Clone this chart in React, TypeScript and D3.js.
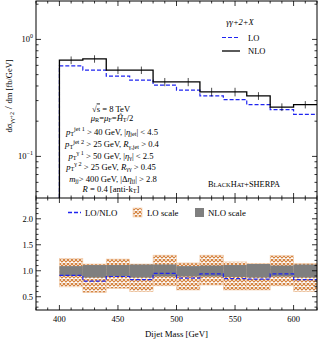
import React from "react";
import * as d3 from "d3";

// bin lower edges (GeV), width 20
const binEdges = [400, 420, 440, 460, 480, 500, 520, 540, 560, 580, 600];
const binWidth = 20;
// dσ/dm [fb/GeV]
const nloValues = [0.665, 0.682, 0.546, 0.546, 0.433, 0.433, 0.356, 0.356, 0.329, 0.264, 0.277];
const nloErrors = [0.05, 0.05, 0.04, 0.04, 0.035, 0.035, 0.03, 0.03, 0.025, 0.02, 0.02];
const loValues = [0.594, 0.546, 0.485, 0.448, 0.406, 0.368, 0.329, 0.306, 0.277, 0.251, 0.229];
// ratio panel
const loNloRatio = [0.91, 0.8, 0.89, 0.83, 0.95, 0.86, 0.94, 0.85, 0.84, 0.94, 0.83];
const loScaleLow = [0.69, 0.58, 0.66, 0.6, 0.71, 0.63, 0.725, 0.63, 0.63, 0.71, 0.6];
const loScaleHigh = [1.24, 1.13, 1.225, 1.13, 1.3, 1.15, 1.3, 1.17, 1.14, 1.29, 1.14];
const nloScaleLow = [0.9, 0.87, 0.89, 0.87, 0.89, 0.89, 0.89, 0.88, 0.87, 0.89, 0.87];
const nloScaleHigh = [1.09, 1.11, 1.11, 1.12, 1.12, 1.09, 1.1, 1.11, 1.13, 1.1, 1.12];

const xTicks = [400, 450, 500, 550, 600];
const ratioTicks = [0.5, 1.0, 1.5, 2.0];

const W = 326;
const H = 345;
const left = 36;
const right = 317;
const mainTop = 1;
const mainBottom = 198;
const ratioBottom = 310;

const font = "'Liberation Serif', 'DejaVu Serif', serif";
const blue = "#1f24f0";
const orange = "#d4813d";

const Cut = ({ xPos, yPos, children }: any) => (
  <text x={xPos} y={yPos} textAnchor="middle">
    {children}
  </text>
);

const App = () => {
  const x = d3.scaleLinear().domain([380, 620]).range([left, right]);
  const y = d3.scaleLog().domain([0.0441, 2.13]).range([mainBottom, mainTop]);
  const yr = d3.scaleLinear().domain([0.245, 2.4]).range([ratioBottom, mainBottom]);

  const lastEdge = binEdges[binEdges.length - 1] + binWidth;

  // histogram step path, optionally with a vertical edge down to the axis
  const histPath = (vals: number[], ys: any, floor: number | null) => {
    const pts: [number, number][] = [];
    if (floor !== null) pts.push([binEdges[0], floor]);
    binEdges.forEach((e, i) => pts.push([e, vals[i]]));
    pts.push([lastEdge, vals[vals.length - 1]]);
    return d3
      .line<[number, number]>()
      .x((d) => x(d[0]))
      .y((d) => ys(d[1]))
      .curve(d3.curveStepAfter)(pts) as string;
  };

  const minorX = d3.range(380, 621, 10);
  const mainMinorY: number[] = [];
  [0.01, 0.1, 1].forEach((dec) => {
    for (let k = 1; k <= 9; k++) {
      const v = dec * k;
      if (v > 0.0441 && v < 2.13) mainMinorY.push(v);
    }
  });
  const ratioMinor = d3.range(0.3, 2.4, 0.1);

  const xTickMarks = (yLine: number, dir: number) =>
    minorX.map((t) => {
      const major = t % 50 === 0;
      return (
        <line
          key={`${yLine}-${t}`}
          x1={x(t)}
          x2={x(t)}
          y1={yLine}
          y2={yLine + dir * (major ? 5 : 2.5)}
          stroke="#000"
          strokeWidth={0.8}
        />
      );
    });

  const sub = 6.2;

  return (
    <svg
      width={W}
      height={H}
      style={{ position: "absolute", left: 0, top: 0, background: "#fff" }}
      fontFamily={font}
    >
      <defs>
        <pattern id="hatch" width="4" height="4" patternUnits="userSpaceOnUse">
          <rect width="4" height="4" fill="#fff" />
          <path d="M0,0 L4,4 M4,0 L0,4" stroke={orange} strokeWidth={1.15} />
        </pattern>
        <clipPath id="mainClip">
          <rect x={left} y={mainTop} width={right - left} height={mainBottom - mainTop} />
        </clipPath>
      </defs>

      {/* main panel */}
      <g clipPath="url(#mainClip)">
        <path
          d={histPath(loValues, y, 0.0441)}
          fill="none"
          stroke={blue}
          strokeWidth={1.2}
          strokeDasharray="4,2"
        />
        <path d={histPath(nloValues, y, 0.0441)} fill="none" stroke="#000" strokeWidth={1.3} />
        {binEdges.map((e, i) => (
          <line
            key={e}
            x1={x(e + binWidth / 2)}
            x2={x(e + binWidth / 2)}
            y1={y(nloValues[i] - nloErrors[i])}
            y2={y(nloValues[i] + nloErrors[i])}
            stroke="#000"
            strokeWidth={0.7}
          />
        ))}
      </g>

      {/* main y ticks */}
      {mainMinorY.map((v) => {
        const major = Math.abs(Math.log10(v) - Math.round(Math.log10(v))) < 1e-6;
        const len = major ? 5 : 2.5;
        return (
          <g key={v}>
            <line x1={left} x2={left + len} y1={y(v)} y2={y(v)} stroke="#000" strokeWidth={0.8} />
            <line x1={right} x2={right - len} y1={y(v)} y2={y(v)} stroke="#000" strokeWidth={0.8} />
          </g>
        );
      })}
      <text x={33} y={y(1) + 3} fontSize={8.5} textAnchor="end">
        10<tspan dy={-4} fontSize={6}>0</tspan>
      </text>
      <text x={33} y={y(0.1) + 3} fontSize={8.5} textAnchor="end">
        10<tspan dy={-4} fontSize={6}>−1</tspan>
      </text>
      {xTickMarks(mainTop, 1)}
      {xTickMarks(mainBottom, -1)}

      <text transform="translate(12,96) rotate(-90)" fontSize={8.5} textAnchor="middle">
        dσ<tspan dy={2} fontSize={6}>γγ+2</tspan>
        <tspan dy={-2} fontSize={11}> / </tspan>
        <tspan>dm  [fb/GeV]</tspan>
      </text>

      {/* legend main */}
      <text x={240} y={25} fontSize={8.5} fontStyle="italic" textAnchor="middle">
        γγ+2+X
      </text>
      <line x1={222} x2={240} y1={37.5} y2={37.5} stroke={blue} strokeWidth={1.2} strokeDasharray="4,2" />
      <text x={248} y={40.5} fontSize={8.5}>LO</text>
      <line x1={222} x2={240} y1={51} y2={51} stroke="#000" strokeWidth={1.3} />
      <text x={248} y={54} fontSize={8.5}>NLO</text>

      {/* cuts text */}
      <g fontSize={8.6}>
        <Cut xPos={111} yPos={111.5}>
          √<tspan textDecoration="overline">s</tspan> = 8 TeV
        </Cut>
        <Cut xPos={112} yPos={120.5}>
          <tspan fontStyle="italic">μ</tspan>
          <tspan dy={1.8} fontSize={sub}>R</tspan>
          <tspan dy={-1.8}>=</tspan>
          <tspan fontStyle="italic">μ</tspan>
          <tspan dy={1.8} fontSize={sub}>F</tspan>
          <tspan dy={-1.8}>=</tspan>
          <tspan fontStyle="italic">Ĥ</tspan>
          <tspan dy={1.8} fontSize={sub}>T</tspan>
          <tspan dy={-1.8}>/2</tspan>
        </Cut>
        <Cut xPos={112} yPos={134.5}>
          <tspan fontStyle="italic">p</tspan>
          <tspan dy={1.8} fontSize={sub}>T</tspan>
          <tspan dy={-5.2} fontSize={sub}>jet 1</tspan>
          <tspan dy={3.4}> &gt; 40 GeV, |</tspan>
          <tspan fontStyle="italic">η</tspan>
          <tspan dy={1.8} fontSize={sub}>jet</tspan>
          <tspan dy={-1.8}>| &lt; 4.5</tspan>
        </Cut>
        <Cut xPos={112} yPos={147}>
          <tspan fontStyle="italic">p</tspan>
          <tspan dy={1.8} fontSize={sub}>T</tspan>
          <tspan dy={-5.2} fontSize={sub}>jet 2</tspan>
          <tspan dy={3.4}> &gt; 25 GeV, </tspan>
          <tspan fontStyle="italic">R</tspan>
          <tspan dy={1.8} fontSize={sub}>γ,jet</tspan>
          <tspan dy={-1.8}> &gt; 0.4</tspan>
        </Cut>
        <Cut xPos={111} yPos={158.5}>
          <tspan fontStyle="italic">p</tspan>
          <tspan dy={1.8} fontSize={sub}>T</tspan>
          <tspan dy={-5.2} fontSize={sub}>γ 1</tspan>
          <tspan dy={3.4}> &gt; 50 GeV, |</tspan>
          <tspan fontStyle="italic">η</tspan>
          <tspan dy={1.8} fontSize={sub}>γ</tspan>
          <tspan dy={-1.8}>| &lt; 2.5</tspan>
        </Cut>
        <Cut xPos={111} yPos={169.5}>
          <tspan fontStyle="italic">p</tspan>
          <tspan dy={1.8} fontSize={sub}>T</tspan>
          <tspan dy={-5.2} fontSize={sub}>γ 2</tspan>
          <tspan dy={3.4}> &gt; 25 GeV, </tspan>
          <tspan fontStyle="italic">R</tspan>
          <tspan dy={1.8} fontSize={sub}>γγ</tspan>
          <tspan dy={-1.8}> &gt; 0.45</tspan>
        </Cut>
        <Cut xPos={113} yPos={181.5}>
          <tspan fontStyle="italic">m</tspan>
          <tspan dy={1.8} fontSize={sub}>jj</tspan>
          <tspan dy={-1.8}>&gt; 400 GeV, |Δ</tspan>
          <tspan fontStyle="italic">η</tspan>
          <tspan dy={1.8} fontSize={sub}>jj</tspan>
          <tspan dy={-1.8}>| &gt; 2.8</tspan>
        </Cut>
        <Cut xPos={111} yPos={191.5}>
          <tspan fontStyle="italic">R</tspan> = 0.4 [anti-k
          <tspan dy={1.8} fontSize={sub}>T</tspan>
          <tspan dy={-1.8}>]</tspan>
        </Cut>
      </g>
      <text x={244} y={187} fontSize={8.3} textAnchor="middle">
        B<tspan fontSize={6.3}>LACK</tspan>H<tspan fontSize={6.3}>AT</tspan>+SHERPA
      </text>

      {/* ratio panel */}
      {binEdges.map((e, i) => (
        <rect
          key={`lo-${e}`}
          x={x(e)}
          width={x(e + binWidth) - x(e)}
          y={yr(loScaleHigh[i])}
          height={yr(loScaleLow[i]) - yr(loScaleHigh[i])}
          fill="url(#hatch)"
          stroke="#f0c8a4"
          strokeWidth={0.6}
        />
      ))}
      {binEdges.map((e, i) => (
        <rect
          key={`nlo-${e}`}
          x={x(e)}
          width={x(e + binWidth) - x(e)}
          y={yr(nloScaleHigh[i])}
          height={yr(nloScaleLow[i]) - yr(nloScaleHigh[i])}
          fill="#7f7f7f"
        />
      ))}
      <path
        d={histPath(loNloRatio, yr, null)}
        fill="none"
        stroke={blue}
        strokeWidth={1.2}
        strokeDasharray="4,2"
      />

      {ratioMinor.map((v) => {
        const major = ratioTicks.some((t) => Math.abs(t - v) < 1e-6);
        const len = major ? 5 : 2.5;
        return (
          <g key={v}>
            <line x1={left} x2={left + len} y1={yr(v)} y2={yr(v)} stroke="#000" strokeWidth={0.8} />
            <line x1={right} x2={right - len} y1={yr(v)} y2={yr(v)} stroke="#000" strokeWidth={0.8} />
          </g>
        );
      })}
      {ratioTicks.map((t) => (
        <text key={t} x={33} y={yr(t) + 3} fontSize={8.5} textAnchor="end">
          {t.toFixed(1)}
        </text>
      ))}
      {xTickMarks(mainBottom, 1)}
      {xTickMarks(ratioBottom, -1)}
      {xTicks.map((t) => (
        <text key={t} x={x(t)} y={322} fontSize={8.5} textAnchor="middle">
          {t}
        </text>
      ))}
      <text x={(left + right) / 2} y={337} fontSize={8.8} textAnchor="middle">
        Dijet Mass  [GeV]
      </text>

      {/* ratio legend */}
      <line x1={68} x2={81} y1={212.5} y2={212.5} stroke={blue} strokeWidth={1.3} strokeDasharray="4,2" />
      <text x={85} y={215.5} fontSize={8.8}>LO/NLO</text>
      <rect x={133} y={208} width={9} height={9} fill="url(#hatch)" stroke="#f0c8a4" strokeWidth={0.6} />
      <text x={147} y={215.5} fontSize={8.8}>LO scale</text>
      <rect x={195} y={208} width={9} height={9} fill="#7f7f7f" />
      <text x={208} y={215.5} fontSize={8.8}>NLO scale</text>

      {/* frames */}
      <rect x={left} y={mainTop} width={right - left} height={ratioBottom - mainTop} fill="none" stroke="#000" strokeWidth={1} />
      <line x1={left} x2={right} y1={mainBottom} y2={mainBottom} stroke="#000" strokeWidth={1} />
    </svg>
  );
};

export default App;
